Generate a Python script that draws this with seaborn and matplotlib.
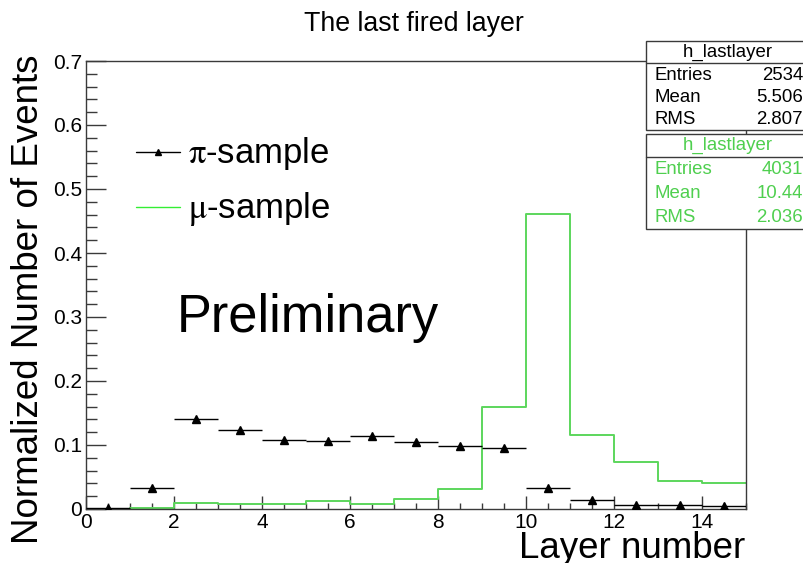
import numpy as np
import matplotlib
matplotlib.use("Agg")
import matplotlib.pyplot as plt
from matplotlib.patches import Rectangle
from matplotlib.lines import Line2D
from matplotlib.ticker import MultipleLocator, FuncFormatter
import seaborn as sns

# ---------------- data ----------------
layer_edges = [0, 1, 2, 3, 4, 5, 6, 7, 8, 9, 10, 11, 12, 13, 14, 15]
layer_centers = [0.5, 1.5, 2.5, 3.5, 4.5, 5.5, 6.5, 7.5, 8.5, 9.5, 10.5, 11.5, 12.5, 13.5, 14.5]
pi_frac = [0.0015, 0.0325, 0.140, 0.123, 0.108, 0.107, 0.114, 0.105, 0.098, 0.095,
           0.0325, 0.0146, 0.0063, 0.0063, 0.0042]
mu_frac = [0.0, 0.0015, 0.010, 0.008, 0.008, 0.012, 0.008, 0.016, 0.031, 0.159,
           0.461, 0.116, 0.074, 0.044, 0.040]

title = "The last fired layer"
xlabel = "Layer number"
ylabel = "Normalized Number of Events"
pi_label = r"$\mathrm{\pi}$-sample"
mu_label = r"$\mathrm{\mu}$-sample"
stats_pi = [("Entries", "2534"), ("Mean", "5.506"), ("RMS", "2.807")]
stats_mu = [("Entries", "4031"), ("Mean", "10.44"), ("RMS", "2.036")]
hist_name = "h_lastlayer"

GREEN = "#5cd65c"
GREEN_TXT = "#4fcf4f"
FRAME = "#3a3a3a"

sns.set_theme(style="white")
plt.rcParams["font.family"] = ["Liberation Sans", "DejaVu Sans"]
plt.rcParams["mathtext.fontset"] = "stix"
plt.rcParams["text.color"] = "black"
plt.rcParams["axes.labelcolor"] = "black"
plt.rcParams["xtick.color"] = "black"
plt.rcParams["ytick.color"] = "black"

W, H = 804, 563
fig = plt.figure(figsize=(W / 100, H / 100), dpi=100)
fig.patch.set_facecolor("white")


def fx(x):
    return x / W


def fy(y):
    return 1 - y / H


ax = fig.add_axes([fx(86), fy(509), 660 / W, 448 / H])
ax.set_facecolor("white")

# mu-sample histogram (step outline)
sns.histplot(x=layer_centers, weights=mu_frac, bins=layer_edges, element="step",
             fill=False, color=GREEN, linewidth=1.4, ax=ax)

# pi-sample points with bin-width bars
ax.errorbar(layer_centers, pi_frac, xerr=0.5, fmt="^", color="black", ms=6,
            lw=1.0, capsize=0, zorder=5)

ax.set_xlim(0, 15)
ax.set_ylim(0, 0.7)
ax.set_xlabel("")
ax.set_ylabel("")

for s in ax.spines.values():
    s.set_visible(True)
    s.set_color(FRAME)
    s.set_linewidth(1.0)

ax.xaxis.set_major_locator(MultipleLocator(2))
ax.xaxis.set_minor_locator(MultipleLocator(0.5))
ax.yaxis.set_major_locator(MultipleLocator(0.1))
ax.yaxis.set_minor_locator(MultipleLocator(0.02))
fmt = FuncFormatter(lambda v, p: "%g" % round(v, 3))
ax.xaxis.set_major_formatter(fmt)
ax.yaxis.set_major_formatter(fmt)

ax.tick_params(axis="both", which="both", direction="in", colors=FRAME,
               labelcolor="black", top=False, right=False, left=True, bottom=True,
               width=1.0)
ax.tick_params(axis="y", which="major", length=14.4, labelsize=15, pad=3)
ax.tick_params(axis="y", which="minor", length=7.9)
ax.tick_params(axis="x", which="major", length=9.4, labelsize=15, pad=3)
ax.tick_params(axis="x", which="minor", length=4.3)

# texts
fig.text(fx(414), fy(31), title, ha="center", va="baseline", fontsize=19.3)
fig.text(fx(745), fy(558), xlabel, ha="right", va="baseline", fontsize=26.5)
fig.text(fx(29), fy(55), ylabel, ha="center", va="top", rotation=90, fontsize=26.5)
ax.text(2.07, 0.276, "Preliminary", ha="left", va="baseline", fontsize=37.8)

# legend (manual, ROOT style)
fig.add_artist(Line2D([fx(136), fx(180)], [fy(152), fy(152)], color="black", lw=1.0))
fig.add_artist(Line2D([fx(158)], [fy(152)], marker="^", color="black", ms=5, lw=0))
fig.add_artist(Line2D([fx(136), fx(180)], [fy(207), fy(207)], color="#33ee33", lw=1.0))
fig.text(fx(188), fy(163), pi_label, ha="left", va="baseline", fontsize=25)
fig.text(fx(188), fy(218), mu_label, ha="left", va="baseline", fontsize=25)


# stats boxes
def stats_box(top, sep, bottom, rows, color, row_y, head_y):
    rect = Rectangle((fx(646), fy(bottom)), (812 - 646) / W, (bottom - top) / H,
                     transform=fig.transFigure, facecolor="white", edgecolor=FRAME,
                     lw=1.0, zorder=10)
    fig.add_artist(rect)
    fig.add_artist(Line2D([fx(646), fx(812)], [fy(sep), fy(sep)], color=FRAME,
                          lw=1.0, zorder=11))
    fig.text(fx(728), fy(head_y), hist_name, ha="center", va="center",
             fontsize=13.4, color=color, zorder=12)
    for (name, val), y in zip(rows, row_y):
        fig.text(fx(655), fy(y), name, ha="left", va="center", fontsize=13.4,
                 color=color, zorder=12)
        fig.text(fx(803), fy(y), val, ha="right", va="center", fontsize=13.4,
                 color=color, zorder=12)


stats_box(41, 63, 130, stats_pi, "black", [75, 98, 120], 52)
stats_box(134, 157, 229, stats_mu, GREEN_TXT, [170, 194, 217], 145)

fig.savefig("out.png", dpi=100)
